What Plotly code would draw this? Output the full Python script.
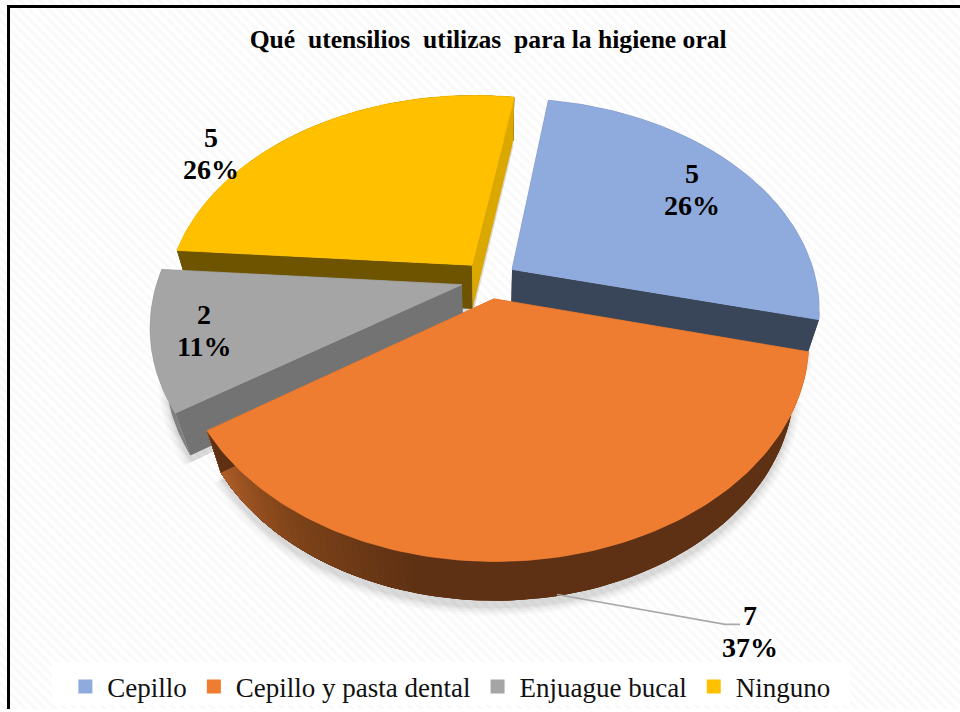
import numpy as np
import plotly.graph_objects as go

# ---- data ----
categories = ["Cepillo", "Cepillo y pasta dental", "Enjuague bucal", "Ninguno"]
values = [5, 7, 2, 5]
percent_labels = ["26%", "37%", "11%", "26%"]
title_text = "Qué\u00a0\u00a0utensilios\u00a0\u00a0utilizas\u00a0\u00a0para\u00a0la\u00a0higiene\u00a0oral"

# ---- style ----
top_colors = ["#8FAADC", "#EF7D31", "#A5A5A5", "#FFC000"]
start_face = ["#394659", "#5E3114", "#737373", "#6E5400"]
end_face = ["#394659", "#5E3114", "#737373", "#DBA800"]
rim_stops = [
    ["#394659", "#394659"],
    ["#5E3114", "#5E3114", "#5E3114", "#5E3114", "#5E3114", "#7F4419", "#B3602A"],
    ["#808080", "#808080"],
    ["#6E5400", "#6E5400"],
]
strip_deg = [8, 1.5, 8, 8]
label_xy = [(692, 190), (750, 634), (204, 332), (211, 154)]
LABEL_GAP = 16
START_DEG = 9.0
CX, CY = 489.0, 281.0
S, A, B = 304.0, 207.0, 46.0
K, M = 0.185, 0.045
EXPLODE = 0.092


def project(X, Y, Z=0.0):
    w = 1 - K * Y + M * Z
    return CX + S * X / w, CY + (A * Y + B * Z) / w


def hex_rgb(h):
    return np.array([int(h[i:i + 2], 16) for i in (1, 3, 5)], float)


def mix(stops, t):
    p = t * (len(stops) - 1)
    i = min(int(p), len(stops) - 2)
    c = hex_rgb(stops[i]) * (1 - (p - i)) + hex_rgb(stops[i + 1]) * (p - i)
    return "rgb(%d,%d,%d)" % tuple(c)


fig = go.Figure()


def poly(xs, ys, color, line=None):
    fig.add_trace(go.Scatter(
        x=list(xs), y=list(ys), mode="lines", fill="toself", fillcolor=color,
        line=dict(color=line or color, width=0.8 if line else 0),
        hoverinfo="skip", showlegend=False))


# hatched page background
fig.add_trace(go.Scatter(
    x=[0, 960, 960, 0, 0], y=[0, 0, 712, 712, 0], mode="lines", fill="toself",
    fillcolor="white", line=dict(width=0),
    fillpattern=dict(shape="\\", fgcolor="#F4F4F4", bgcolor="#FFFFFF", size=7, solidity=0.45),
    hoverinfo="skip", showlegend=False))

total = sum(values)
spans = [v / total * 360 for v in values]
starts = [START_DEG + sum(spans[:i]) for i in range(len(values))]

geom = []
for i in range(len(values)):
    a0 = np.radians(starts[i])
    a1 = np.radians(starts[i] + spans[i])
    mid = (a0 + a1) / 2
    ex, ey = EXPLODE * np.sin(mid), -EXPLODE * np.cos(mid)
    th = np.linspace(a0, a1, max(8, int(spans[i])))
    geom.append((a0, a1, ex, ey, th))

# soft shadow
for i in range(len(values)):
    a0, a1, ex, ey, th = geom[i]
    for grow, alpha in [(0.03, 0.025), (0.022, 0.03), (0.014, 0.04), (0.007, 0.05)]:
        gx = np.r_[ex, ex + (1 + grow) * np.sin(th), ex]
        gy = np.r_[ey, ey - (1 + grow) * np.cos(th), ey]
        px, py = project(gx, gy, 1.15)
        poly(px, py, "rgba(0,0,0,%.3f)" % alpha)

# slices, back to front
for i in [3, 0, 2, 1]:
    a0, a1, ex, ey, th = geom[i]
    # outer rim: each colour step repaints from its start angle to the rim's end, so no seams
    edges = np.linspace(a0, a1, max(2, int(spans[i] / strip_deg[i])) + 1)
    last = None
    for j in range(len(edges) - 1):
        c = mix(rim_stops[i], (j + 0.5) / (len(edges) - 1))
        if c == last:
            continue
        last = c
        t = np.linspace(edges[j], a1, 60)
        rx, ry = ex + np.sin(t), ey - np.cos(t)
        x0, y0 = project(rx, ry, 0.0)
        x1, y1 = project(rx[::-1], ry[::-1], 1.0)
        poly(np.r_[x0, x1], np.r_[y0, y1], c)
    # cut faces
    for ang, col in ((a1, end_face[i]), (a0, start_face[i])):
        ox, oy = ex + np.sin(ang), ey - np.cos(ang)
        px = np.array([ex, ox, ox, ex])
        py = np.array([ey, oy, oy, ey])
        pz = np.array([0.0, 0.0, 1.0, 1.0])
        sx, sy = project(px, py, pz)
        poly(sx, sy, col)
    # top surface
    tx = np.r_[ex, ex + np.sin(th), ex]
    ty = np.r_[ey, ey - np.cos(th), ey]
    sx, sy = project(tx, ty, 0.0)
    poly(sx, sy, top_colors[i], line=top_colors[i])

# leader line for the orange slice
fig.add_trace(go.Scatter(
    x=[557, 725, 740], y=[597, 627, 627], mode="lines",
    line=dict(color="#A9A9A9", width=1.6), hoverinfo="skip", showlegend=False))

# legend entries
for name, col in zip(categories, top_colors):
    fig.add_trace(go.Scatter(
        x=[None], y=[None], mode="markers", name=name,
        marker=dict(symbol="square", size=14, color=col)))

for (lx, ly), v, p in zip(label_xy, values, percent_labels):
    for txt, dy in ((v, -LABEL_GAP), (p, LABEL_GAP)):
        fig.add_annotation(
            x=lx, y=ly + dy, xref="x", yref="y", text=f"<b>{txt}</b>", showarrow=False,
            font=dict(family="Liberation Serif", size=28, color="black"), align="center")

fig.update_layout(
    width=960, height=712, margin=dict(l=0, r=0, t=0, b=0),
    paper_bgcolor="white", plot_bgcolor="white",
    title=dict(text="<b>" + title_text + "</b>", x=0.5085, xanchor="center", y=0.945, yanchor="middle",
               font=dict(family="Liberation Serif", size=25.6, color="black")),
    xaxis=dict(range=[0, 960], visible=False, fixedrange=True),
    yaxis=dict(range=[712, 0], visible=False, fixedrange=True),
    legend=dict(orientation="h", x=0.066, xanchor="left", y=0.0655, yanchor="top", itemwidth=34,
                bgcolor="rgba(0,0,0,0)", font=dict(family="Liberation Serif", size=27, color="#111111"),
                itemclick=False, itemdoubleclick=False),
    shapes=[
        dict(type="rect", xref="x", yref="y", x0=52, x1=850, y0=665, y1=708,
             fillcolor="white", line=dict(width=0), layer="above"),
        dict(type="line", xref="x", yref="y", x0=8.5, x1=8.5, y0=6, y1=712, line=dict(color="black", width=3)),
        dict(type="line", xref="x", yref="y", x0=7, x1=960, y0=6.5, y1=6.5, line=dict(color="black", width=3)),
    ],
)
fig.write_html("out.html", config={"displayModeBar": False}, post_script="document.body.style.margin='0';")
